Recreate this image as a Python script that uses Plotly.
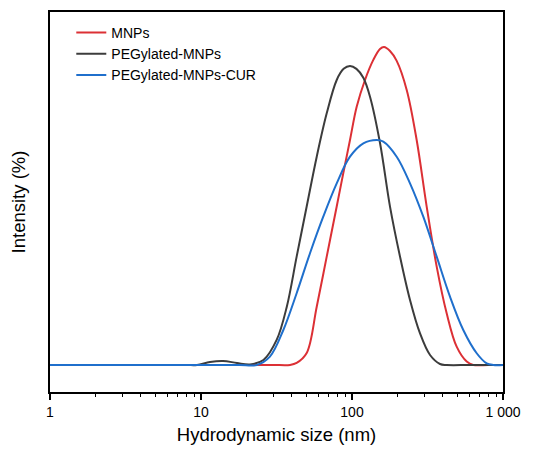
import plotly.graph_objects as go

# Hydrodynamic size (nm) and intensity (%)
mnp_size = [1, 5, 20, 30, 38.9, 43.0, 50.1, 58.4, 68.0, 79.2, 87.6, 97.0, 107.4, 121.9,
            138.4, 153.2, 162.9, 178.5, 197.7, 230.3, 268.1, 312.3, 363.8, 423.6, 493.4,
            575, 636, 800, 1000]
mnp_int = [0, 0, 0, 0, 0, 0.1, 0.60, 2.93, 5.45, 7.97, 9.66, 11.32, 12.99, 14.34,
           15.35, 15.9, 16.0, 15.8, 15.3, 13.84, 11.32, 7.97, 4.95, 2.60, 0.92,
           0.17, 0, 0, 0]

peg_size = [1, 4, 8, 9.41, 11.47, 13.99, 17.31, 21.11, 25.9, 31.7, 37.0, 43.0, 50.1,
            58.4, 68.0, 79.2, 88.0, 97.0, 107.0, 118.9, 131.6, 153.2, 178.5, 208.0, 242.2,
            281.8, 328.7, 382.6, 423.6, 600, 1000]
peg_int = [0, 0, 0, 0, 0.15, 0.2, 0.1, 0.03, 0.25, 1.26, 2.93, 5.45, 7.97,
           10.48, 12.66, 14.34, 14.9, 15.04, 14.9, 14.45, 13.50, 11.18, 7.97, 5.45, 3.27,
           1.60, 0.50, 0.05, 0, 0, 0]

cur_size = [1, 5, 12, 18, 23.4, 28.6, 35.1, 43.0, 52.7, 64.5, 79.2, 97.0, 118.9, 145.8,
            161.2, 197.7, 242.2, 296.6, 363.8, 445.6, 545.8, 669.7, 780, 863, 1000]
cur_int = [0, 0, 0, 0, 0, 0.42, 1.76, 3.61, 5.62, 7.46, 9.14, 10.48, 11.15, 11.32,
           11.24, 10.48, 9.14, 7.46, 5.45, 3.44, 1.76, 0.59, 0.08, 0, 0]

x_tickvals = [1, 10, 100, 1000]
x_ticktext = ["1", "10", "100", "1 000"]

series = [
    ("MNPs", mnp_size, mnp_int, "#dc3035"),
    ("PEGylated-MNPs", peg_size, peg_int, "#3c3c3c"),
    ("PEGylated-MNPs-CUR", cur_size, cur_int, "#1f6fcc"),
]

fig = go.Figure()
for name, xs, ys, col in series:
    fig.add_trace(go.Scatter(x=xs, y=ys, mode="lines", name=name,
                             line=dict(color=col, width=2, shape="spline", smoothing=1.0)))

fig.update_layout(
    width=544, height=451,
    margin=dict(l=42, r=49, t=4, b=67, autoexpand=False),
    paper_bgcolor="white", plot_bgcolor="white",
    font=dict(family="Liberation Sans, Arial, sans-serif", color="black", size=14),
    showlegend=True,
    legend=dict(x=0.047, y=0.987, xanchor="left", yanchor="top",
                bgcolor="rgba(0,0,0,0)", font=dict(size=14), tracegroupgap=0),
    xaxis=dict(type="log", range=[0, 3], tickvals=x_tickvals, ticktext=x_ticktext,
               ticks="outside", ticklen=6, tickwidth=1.5, tickcolor="black",
               minor=dict(ticks="outside", ticklen=3, tickwidth=1, tickcolor="black",
                          dtick="D1"),
               showline=True, linecolor="black", linewidth=1.5, mirror=True,
               showgrid=False, zeroline=False, automargin=False,
               title=dict(text="Hydrodynamic size (nm)", font=dict(size=18.5), standoff=10),
               tickfont=dict(size=14)),
    yaxis=dict(range=[-1.36, 17.76], showticklabels=False, ticks="",
               showline=True, linecolor="black", linewidth=1.5, mirror=True,
               showgrid=False, zeroline=False, automargin=False,
               title=dict(text="Intensity (%)", font=dict(size=18.5), standoff=20)),
)

fig.write_html("out.html")
